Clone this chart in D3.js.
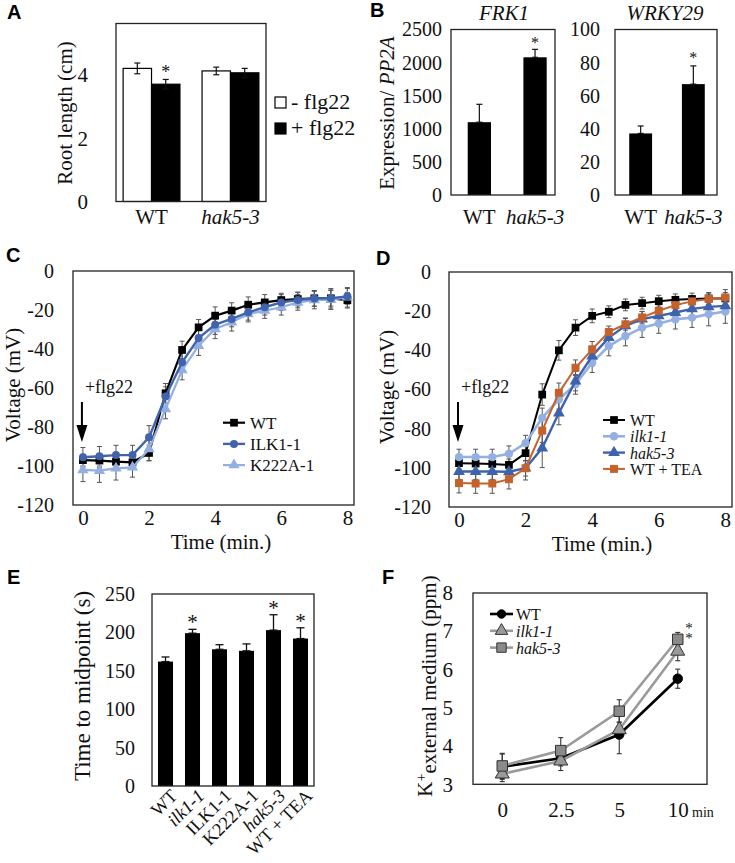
<!DOCTYPE html>
<html><head><meta charset="utf-8">
<script src="https://cdn.jsdelivr.net/npm/d3@7"></script>
<style>
body{margin:0;background:#fff;}
svg{display:block;}
</style></head><body>
<svg id="fig" width="735" height="863"></svg>
<script>
// ================= DATA =================
// Panel A – root length
const aGroups = ["WT", "hak5-3"];
const aTreat = ["- flg22", "+ flg22"];
const aMinus = [4.21, 4.13];
const aMinusErr = [0.17, 0.12];
const aPlus = [3.71, 4.07];
const aPlusErr = [0.15, 0.14];
const aPlusSig = [true, false];
const aTicks = [0, 2, 4];

// Panel B – expression
const bGroups = ["WT", "hak5-3"];
const bFRK1 = [1100, 2080];
const bFRK1Err = [270, 120];
const bFRK1Ticks = [0, 500, 1000, 1500, 2000, 2500];
const bWRKY = [37.2, 67];
const bWRKYErr = [4.5, 11];
const bWRKYTicks = [0, 20, 40, 60, 80, 100];
const bSig = [false, true];

// Panels C / D – voltage time courses
const times = [0, 0.5, 1, 1.5, 2, 2.5, 3, 3.5, 4, 4.5, 5, 5.5, 6, 6.5, 7, 7.5, 8];
const voltTicks = [0, -20, -40, -60, -80, -100, -120];
const timeTicks = [0, 2, 4, 6, 8];

const cWT     = [-97, -97.2, -97.8, -98.1, -93.3, -62.7, -40.5, -28.9, -22.9, -20.3, -17.3, -16.1, -14.9, -14.4, -14, -14, -15];
const cWTErr  = [3, 3.5, 3.5, 3.5, 4, 5, 4.5, 4, 4.5, 4, 4, 4, 3.5, 3.5, 4, 5, 4];
const cILK    = [-95.5, -95, -94.4, -94.4, -85.3, -64.4, -46.8, -34.4, -27.5, -24.6, -21.2, -18.6, -16.1, -14.9, -14.1, -14, -13];
const cILKErr = [5, 5, 5, 5, 6, 5, 5, 5, 5, 4, 4, 4, 4, 4, 4, 4, 4];
const cK222   = [-102, -102.4, -101.2, -100.7, -91.3, -70.8, -50.8, -38.3, -29.7, -26.3, -22.1, -20.3, -18.6, -16.1, -14.9, -14.7, -13.5];
const cK222Err= [6, 6, 6, 5, 6, 5, 5, 5, 5, 4.5, 4, 4, 4, 4, 4.5, 5, 5];

const dWT     = [-97.6, -97.8, -98, -98.5, -92.5, -62.6, -40, -28.4, -22.4, -20.3, -16.8, -15.9, -14.9, -14.2, -13.8, -13.5, -13.5];
const dWTErr  = [3, 3, 3, 3, 4, 5.5, 5, 4, 3.5, 3, 3, 3, 3, 3, 3, 3, 3];
const dIlk    = [-94.5, -94.5, -94.5, -92.8, -87.4, -74.5, -65, -57.4, -46.3, -37.8, -32.7, -28.4, -26.3, -24.1, -23.3, -21.5, -20.2];
const dIlkErr = [4, 4, 4, 4, 4, 5, 5, 5, 5, 5, 5, 5, 5, 5, 5, 6, 6];
const dHak    = [-101.9, -101.9, -101.9, -102, -100.2, -89.9, -72, -55.7, -42.9, -33.5, -27.5, -24.1, -22.4, -20.7, -18.8, -17.8, -17.3];
const dHakErr = [4, 4, 4, 4, 4, 10, 6, 5, 5, 4, 4, 4, 4, 4, 4, 4, 4];
const dTEA    = [-107.8, -108, -108, -105.8, -100.2, -81, -61.7, -48.9, -39.5, -30.6, -26.7, -23.2, -19.8, -16.9, -15, -13.8, -13];
const dTEAErr = [5, 5, 5, 5, 6, 6, 5, 4, 4, 3, 3, 3, 3, 3, 3, 3, 4];

// Panel E – time to midpoint
const eLabels = ["WT", "ilk1-1", "ILK1-1", "K222A-1", "hak5-3", "WT + TEA"];
const eItalic = [false, true, false, false, true, false];
const eValues = [162, 199, 178, 176, 203, 192];
const eErr = [6, 5, 6, 9, 20, 14];
const eSig = [false, true, false, false, true, true];
const eTicks = [0, 50, 100, 150, 200, 250];

// Panel F – K+ in external medium
const fTimes = ["0", "2.5", "5", "10"];
const fWT = [3.46, 3.68, 4.3, 5.76];
const fWTErr = [0.33, 0.2, 0.5, 0.25];
const fIlk = [3.27, 3.61, 4.43, 6.48];
const fIlkErr = [0.2, 0.25, 0.2, 0.25];
const fHak = [3.48, 3.88, 4.91, 6.79];
const fHakErr = [0.33, 0.34, 0.3, 0.18];
const fTicks = [3, 4, 5, 6, 7, 8];

// ================= HELPERS =================
const SERIF = "'Liberation Serif','Times New Roman',Times,serif";
const SANS = "'Liberation Sans',Arial,Helvetica,sans-serif";
const svg = d3.select("#fig");

function text(g, x, y, str, o = {}) {
  const t = g.append("text").attr("x", x).attr("y", y)
    .attr("font-family", o.family || SERIF)
    .attr("font-size", o.size || 20)
    .attr("text-anchor", o.anchor || "start")
    .attr("fill", o.fill || "#111")
    .text(str);
  if (o.italic) t.attr("font-style", "italic");
  if (o.bold) t.attr("font-weight", "bold");
  if (o.rotate) t.attr("transform", `rotate(${o.rotate},${x},${y})`);
  if (o.dy) t.attr("dy", o.dy);
  return t;
}
function panelLetter(x, y, s) { text(svg, x, y, s, {family: SANS, bold: true, size: 20, fill: "#000"}); }

function frame(g, x0, x1, y0, y1) {
  g.append("rect").attr("x", x0).attr("y", y0).attr("width", x1 - x0).attr("height", y1 - y0)
    .attr("fill", "none").attr("stroke", "#222").attr("stroke-width", 1.3);
}
function yAxis(g, scale, ticks, x, pad, size) {
  g.append("g").attr("transform", `translate(${x},0)`)
    .call(d3.axisLeft(scale).tickValues(ticks).tickSize(0).tickPadding(pad).tickFormat(d => String(d)))
    .call(a => a.select(".domain").remove())
    .call(a => a.selectAll("text").attr("font-family", SERIF).attr("font-size", size || 20).attr("fill", "#111"));
}
function xAxis(g, scale, ticks, y, pad, size, italicFn) {
  const ax = d3.axisBottom(scale).tickSize(0).tickPadding(pad);
  if (ticks) ax.tickValues(ticks);
  ax.tickFormat(d => String(d));
  g.append("g").attr("transform", `translate(0,${y})`)
    .call(ax)
    .call(a => a.select(".domain").remove())
    .call(a => a.selectAll("text").attr("font-family", SERIF).attr("font-size", size || 20).attr("fill", "#111")
      .attr("font-style", d => italicFn && italicFn(d) ? "italic" : "normal"));
}
function errBars(g, pts, color, cap, sw) {
  const eg = g.append("g").attr("stroke", color).attr("stroke-width", sw || 1).attr("fill", "none");
  pts.forEach(p => {
    eg.append("line").attr("x1", p.cx).attr("x2", p.cx).attr("y1", p.lo).attr("y2", p.hi);
    eg.append("line").attr("x1", p.cx - cap).attr("x2", p.cx + cap).attr("y1", p.lo).attr("y2", p.lo);
    eg.append("line").attr("x1", p.cx - cap).attr("x2", p.cx + cap).attr("y1", p.hi).attr("y2", p.hi);
  });
}
function star(g, cx, errTopY, size, gap) {
  text(g, cx, errTopY - (gap || 0), "*", {anchor: "middle", size: size || 18, fill: "#111"});
}
function symbolPath(type, size) { return d3.symbol().type(type).size(size)(); }

// ================= PANEL A =================
{
  const g = svg.append("g");
  panelLetter(7, 19, "A");
  const y = d3.scaleLinear().domain([0, 5.63]).range([201.5, 23.5]);
  const x = d3.scaleBand().domain(aGroups).range([116, 266]).paddingInner(0.28).paddingOuter(0.09);
  const x1 = d3.scaleBand().domain(aTreat).range([0, x.bandwidth()]);
  const rows = aGroups.flatMap((grp, i) => [
    {g: grp, t: aTreat[0], v: aMinus[i], e: aMinusErr[i], sig: false},
    {g: grp, t: aTreat[1], v: aPlus[i], e: aPlusErr[i], sig: aPlusSig[i]}
  ]);
  g.selectAll("rect.bar").data(rows).join("rect").attr("class", "bar")
    .attr("x", d => x(d.g) + x1(d.t)).attr("y", d => y(d.v))
    .attr("width", x1.bandwidth()).attr("height", d => y(0) - y(d.v))
    .attr("fill", d => d.t === aTreat[0] ? "#fff" : "#000")
    .attr("stroke", "#000").attr("stroke-width", 1.2);
  errBars(g, rows.map(d => ({cx: x(d.g) + x1(d.t) + x1.bandwidth() / 2, lo: y(d.v - d.e), hi: y(d.v + d.e)})), "#111", 3, 1.2);
  rows.filter(d => d.sig).forEach(d => star(g, x(d.g) + x1(d.t) + x1.bandwidth() / 2, y(d.v + d.e), 18, 1));
  frame(g, 116, 266, 23.5, 201.5);
  yAxis(g, y, aTicks, 116, 28, 21);
  xAxis(g, x, null, 201.5, 8, 21, d => d !== "WT");
  text(g, 65, 113, "Root length (cm)", {anchor: "middle", rotate: -90, dy: "0.35em", size: 21});
  // legend
  aTreat.forEach((t, i) => {
    g.append("rect").attr("x", 275).attr("y", 97 + i * 26).attr("width", 11).attr("height", 11)
      .attr("fill", i === 0 ? "#fff" : "#000").attr("stroke", "#000").attr("stroke-width", 1.2);
    text(g, 291, 109 + i * 26, t, {size: 22}).attr("xml:space", "preserve");
  });
}

// ================= PANEL B =================
{
  const g = svg.append("g");
  panelLetter(370, 17, "B");
  const yF = d3.scaleLinear().domain([0, 2500]).range([195, 29.5]);
  const xF = d3.scaleBand().domain(bGroups).range([451, 563.4]).paddingInner(0.582).paddingOuter(0.3);
  g.selectAll("rect.f").data(bFRK1).join("rect").attr("class", "f")
    .attr("x", (d, i) => xF(bGroups[i])).attr("y", d => yF(d))
    .attr("width", xF.bandwidth()).attr("height", d => yF(0) - yF(d)).attr("fill", "#000");
  errBars(g, bFRK1.map((v, i) => ({cx: xF(bGroups[i]) + xF.bandwidth() / 2, lo: yF(v), hi: yF(v + bFRK1Err[i])})), "#111", 3, 1.2);
  bFRK1.forEach((v, i) => { if (bSig[i]) star(g, xF(bGroups[i]) + xF.bandwidth() / 2, yF(v + bFRK1Err[i]), 16, 1); });
  frame(g, 451, 555, 29.5, 195);
  yAxis(g, yF, bFRK1Ticks, 451, 9, 20);
  xAxis(g, xF, null, 195, 14, 21, d => d !== "WT");
  text(g, 504, 20, "FRK1", {anchor: "middle", italic: true, size: 21});

  const yW = d3.scaleLinear().domain([0, 100]).range([195, 29.5]);
  const xW = d3.scaleBand().domain(bGroups).range([615, 719]).paddingInner(0.566).paddingOuter(0.27);
  g.selectAll("rect.w").data(bWRKY).join("rect").attr("class", "w")
    .attr("x", (d, i) => xW(bGroups[i])).attr("y", d => yW(d))
    .attr("width", xW.bandwidth()).attr("height", d => yW(0) - yW(d)).attr("fill", "#000");
  errBars(g, bWRKY.map((v, i) => ({cx: xW(bGroups[i]) + xW.bandwidth() / 2, lo: yW(v), hi: yW(v + bWRKYErr[i])})), "#111", 3, 1.2);
  bWRKY.forEach((v, i) => { if (bSig[i]) star(g, xW(bGroups[i]) + xW.bandwidth() / 2, yW(v + bWRKYErr[i]), 16, 3); });
  frame(g, 615, 717, 29.5, 195);
  yAxis(g, yW, bWRKYTicks, 615, 15, 20);
  xAxis(g, xW, null, 195, 14, 21, d => d !== "WT");
  text(g, 665, 20, "WRKY29", {anchor: "middle", italic: true, size: 21});

  const yl = text(g, 387, 113, "Expression/ ", {anchor: "middle", rotate: -90, dy: "0.35em", size: 21});
  yl.append("tspan").attr("font-style", "italic").text("PP2A");
}

// ================= LINE PANEL HELPER =================
function linePanel(o) {
  const g = svg.append("g");
  const x = d3.scaleLinear().domain([-0.3, 8.2]).range([o.x0, o.x1]);
  const y = d3.scaleLinear().domain([-120, 0]).range([o.y1, o.y0]);
  const line = d3.line().x((d, i) => x(times[i])).y(d => y(d));
  const drawn = o.drawOrder.map(k => o.series[k]);
  // error bars first
  drawn.forEach(s => errBars(g, s.v.map((v, i) => ({cx: x(times[i]), lo: y(v - s.e[i]), hi: y(v + s.e[i])})), "#555", 2.5, 1));
  drawn.forEach(s => {
    g.append("path").datum(s.v).attr("d", line).attr("fill", "none")
      .attr("stroke", s.c).attr("stroke-width", s.lw || 2.2);
    g.selectAll(null).data(s.v).join("path")
      .attr("transform", (d, i) => `translate(${x(times[i])},${y(d)})`)
      .attr("d", symbolPath(s.sym, s.size)).attr("fill", s.c);
  });
  frame(g, o.x0, o.x1, o.y0, o.y1);
  yAxis(g, y, voltTicks, o.x0, o.ypad, 20);
  xAxis(g, x, timeTicks, o.y1, o.xpad, 21);
  text(g, o.titleX, o.titleY, "Time (min.)", {anchor: "middle", size: 21});
  text(g, o.ylabX, o.ylabY, "Voltage (mV)", {anchor: "middle", rotate: -90, dy: "0.35em", size: 21});
  // arrow + flg22
  const ax = x(0) - 1;
  g.append("line").attr("x1", ax).attr("x2", ax).attr("y1", 402).attr("y2", 428).attr("stroke", "#000").attr("stroke-width", 2);
  g.append("path").attr("d", `M${ax - 5.5},425L${ax + 5.5},425L${ax},442Z`).attr("fill", "#000");
  text(g, x(0) + 2, 393, "+flg22", {size: 18});
  // legend
  o.series.forEach((s, k) => {
    const ly = o.legY + k * o.legStep;
    g.append("line").attr("x1", o.legX).attr("x2", o.legX + 22).attr("y1", ly).attr("y2", ly)
      .attr("stroke", s.c).attr("stroke-width", s.lw || 2.2);
    g.append("path").attr("transform", `translate(${o.legX + 11},${ly})`).attr("d", symbolPath(s.sym, s.size)).attr("fill", s.c);
    text(g, o.legX + 27, ly + 6, s.name, {size: o.legSize, italic: s.it});
  });
  return g;
}

// ================= PANEL C =================
panelLetter(6, 262, "C");
linePanel({
  x0: 73, x1: 354, y0: 271, y1: 505, ypad: 19, xpad: 5,
  titleX: 221, titleY: 549, ylabX: 13, ylabY: 385,
  legX: 223, legY: 422.7, legStep: 21.2, legSize: 17,
  series: [
    {name: "WT", v: cWT, e: cWTErr, c: "#000", sym: d3.symbolSquare, size: 60, lw: 2.2},
    {name: "ILK1-1", v: cILK, e: cILKErr, c: "#4163ae", sym: d3.symbolCircle, size: 50, lw: 2.4},
    {name: "K222A-1", v: cK222, e: cK222Err, c: "#93aee0", sym: d3.symbolTriangle, size: 55, lw: 2.2}
  ],
  drawOrder: [0, 2, 1]
});

// ================= PANEL D =================
panelLetter(376, 265, "D");
linePanel({
  x0: 449, x1: 732, y0: 272, y1: 507, ypad: 18, xpad: 5,
  titleX: 602, titleY: 551, ylabX: 387, ylabY: 387,
  legX: 603, legY: 420, legStep: 16.3, legSize: 16,
  series: [
    {name: "WT", v: dWT, e: dWTErr, c: "#000", sym: d3.symbolSquare, size: 60, lw: 2},
    {name: "ilk1-1", v: dIlk, e: dIlkErr, c: "#94b0e2", sym: d3.symbolCircle, size: 55, lw: 2.6, it: true},
    {name: "hak5-3", v: dHak, e: dHakErr, c: "#3f62ad", sym: d3.symbolTriangle, size: 60, lw: 2.4, it: true},
    {name: "WT + TEA", v: dTEA, e: dTEAErr, c: "#c5622c", sym: d3.symbolSquare, size: 64, lw: 2}
  ],
  drawOrder: [0, 1, 2, 3]
});

// ================= PANEL E =================
{
  const g = svg.append("g");
  panelLetter(7, 584, "E");
  const y = d3.scaleLinear().domain([0, 250]).range([786, 594]);
  const x = d3.scaleBand().domain(eLabels).range([152, 314]).paddingInner(0.444).paddingOuter(0.222);
  g.selectAll("rect.e").data(eValues).join("rect").attr("class", "e")
    .attr("x", (d, i) => x(eLabels[i])).attr("y", d => y(d))
    .attr("width", x.bandwidth()).attr("height", d => y(0) - y(d)).attr("fill", "#000");
  errBars(g, eValues.map((v, i) => ({cx: x(eLabels[i]) + x.bandwidth() / 2, lo: y(v), hi: y(v + eErr[i])})), "#111", 4, 1.3);
  eValues.forEach((v, i) => { if (eSig[i]) star(g, x(eLabels[i]) + x.bandwidth() / 2, y(v + eErr[i]), 21, 0); });
  frame(g, 152, 314, 594, 786);
  yAxis(g, y, eTicks, 152, 17, 20);
  eLabels.forEach((l, i) => {
    const cx = x(l) + x.bandwidth() / 2 + 13;
    text(g, cx, 797, l, {anchor: "end", rotate: -45, size: 18.5, italic: eItalic[i]});
  });
  text(g, 82, 686, "Time to midpoint (s)", {anchor: "middle", rotate: -90, dy: "0.33em", size: 23});
}

// ================= PANEL F =================
{
  const g = svg.append("g");
  panelLetter(382, 584, "F");
  const y = d3.scaleLinear().domain([3, 8]).range([784.3, 593]);
  const x = d3.scalePoint().domain(fTimes).range([473, 707]).padding(0.5);
  const series = [
    {name: "WT", v: fWT, e: fWTErr, line: "#000", fill: "#000", stroke: "#000", sym: d3.symbolCircle, size: 70},
    {name: "ilk1-1", v: fIlk, e: fIlkErr, line: "#9a9a9a", fill: "#9a9a9a", stroke: "#333", sym: d3.symbolTriangle, size: 85, it: true},
    {name: "hak5-3", v: fHak, e: fHakErr, line: "#9a9a9a", fill: "#8a8a8a", stroke: "#333", sym: d3.symbolSquare, size: 110, it: true}
  ];
  series.forEach(s => errBars(g, s.v.map((v, i) => ({cx: x(fTimes[i]), lo: y(v - s.e[i]), hi: y(v + s.e[i])})), "#333", 2.5, 1.1));
  const line = d3.line().x((d, i) => x(fTimes[i])).y(d => y(d));
  series.forEach(s => {
    g.append("path").datum(s.v).attr("d", line).attr("fill", "none").attr("stroke", s.line).attr("stroke-width", 2.6);
    g.selectAll(null).data(s.v).join("path")
      .attr("transform", (d, i) => `translate(${x(fTimes[i])},${y(d)})`)
      .attr("d", symbolPath(s.sym, s.size)).attr("fill", s.fill).attr("stroke", s.stroke).attr("stroke-width", 1);
  });
  frame(g, 473, 707, 593, 784.3);
  yAxis(g, y, fTicks, 473, 20, 21);
  xAxis(g, x, null, 784.3, 18, 21);
  text(g, 692, 817, "min", {size: 14});
  // stacked stars for ilk1-1 and hak5-3 at 10 min
  const st = text(g, 689, 633, "", {anchor: "middle", size: 15});
  st.append("tspan").attr("x", 689).text("*");
  st.append("tspan").attr("x", 689).attr("dy", 10).text("*");
  // legend
  series.forEach((s, k) => {
    const ly = 614 + k * 16.8;
    g.append("line").attr("x1", 490).attr("x2", 513).attr("y1", ly).attr("y2", ly).attr("stroke", s.line).attr("stroke-width", 2.6);
    g.append("path").attr("transform", `translate(501.5,${ly})`).attr("d", symbolPath(s.sym, s.size * 0.8))
      .attr("fill", s.fill).attr("stroke", s.stroke).attr("stroke-width", 1);
    text(g, 516, ly + 6, s.name, {size: 16, italic: s.it});
  });
  const yl = text(g, 425, 686, "K", {anchor: "middle", rotate: -90, dy: "0.35em", size: 21});
  yl.append("tspan").attr("dy", "-0.45em").attr("font-size", 14).text("+");
  yl.append("tspan").attr("dy", "0.45em").text("external medium (ppm)");
}
</script></body></html>
